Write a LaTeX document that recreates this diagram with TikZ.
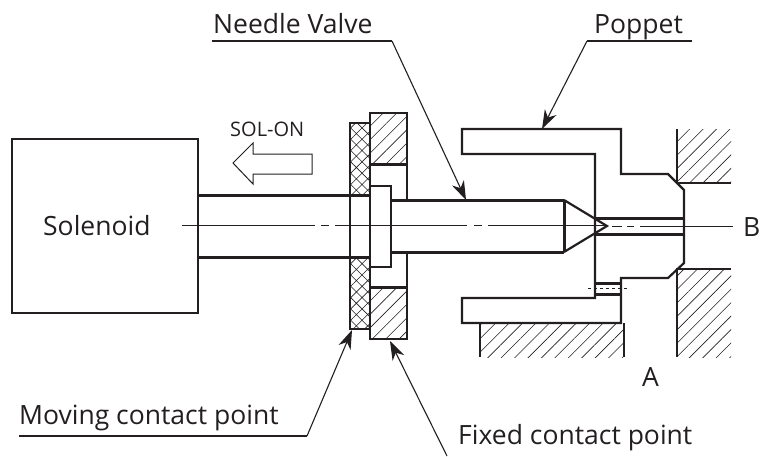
\documentclass[tikz,border=0pt]{standalone}
\usepackage{fontspec}
\setmainfont{Open Sans}
\usetikzlibrary{arrows.meta,patterns.meta}
\definecolor{ink}{HTML}{231F20}
\tikzset{
  thick line/.style = {line width = 2.2pt, draw = ink, line join = miter},
  heavy line/.style = {line width = 3pt, draw = ink},
  thin line/.style = {line width = 1.1pt, draw = ink},
  hatched/.style = {pattern = {Lines[angle = 45, distance = 9.5pt, line width = 0.6pt]}, pattern color = ink},
  crossed/.style = {pattern = {Hatch[angle = 45, distance = 8pt, line width = 0.6pt]}, pattern color = ink},
  leader/.style = {line width = 1.1pt, draw = ink, -{Stealth[length = 19pt, width = 13pt, inset = 6pt]}},
  label/.style = {text = ink, font = \fontsize{26.5}{30}\selectfont, inner sep = 0pt, anchor = base west},
  centre/.style = {line width = 1pt, draw = ink}
}
\begin{document}
\begin{tikzpicture}[x = 1pt, y = -1pt]
\useasboundingbox (0, 0) rectangle (761, 456);
% hatching first, the outlines go on top
\fill[hatched] (677, 129) rectangle (731, 183);
\fill[hatched] (677, 269) rectangle (731, 357);
\fill[hatched] (480, 323) rectangle (624, 357);
\fill[hatched] (370, 113) rectangle (407, 164);
\fill[hatched] (370, 287) rectangle (407, 339);
\fill[crossed] (350, 123) rectangle (370, 195);
\fill[crossed] (350, 257) rectangle (370, 329);
% body of the solenoid and rod
\node[draw = ink, line width = 1.6pt, minimum width = 186pt, minimum height = 174pt, inner sep = 0pt] (solenoidbox) at (105, 226) {};
\draw[heavy line] (198, 195) -- (370, 195);
\draw[heavy line] (198, 257) -- (370, 257);
% contact points
\draw[thick line] (370, 123) -- (350, 123) -- (350, 329) -- (370, 329);
\draw[thick line] (370, 164) -- (370, 113) -- (407, 113) -- (407, 164);
\draw[thick line] (370, 287) -- (370, 339) -- (407, 339) -- (407, 287);
\draw[thick line] (370, 164) -- (370, 287);
\draw[heavy line] (370, 164) -- (407, 164);
\draw[heavy line] (370, 287) -- (407, 287);
\draw[thick line] (407, 164) -- (407, 200);
\draw[thick line] (407, 252) -- (407, 287);
% needle valve
\draw[thick line] (370, 186) -- (391, 186) -- (391, 267) -- (370, 267);
\draw[heavy line] (391, 200) -- (564, 200);
\draw[heavy line] (391, 252) -- (564, 252);
\draw[heavy line] (564, 200) -- (564, 252);
\draw[thick line] (564, 200) -- (607, 226) -- (564, 252);
% poppet
\draw[thick line] (462, 129) -- (621, 129) -- (621, 174) -- (668, 174) -- (684, 190) -- (684, 263) -- (668, 278) -- (621, 278) -- (621, 323) -- (462, 323) -- (462, 298) -- (595, 298) -- (595, 154) -- (462, 154) -- cycle;
\draw[heavy line] (595, 218) -- (684, 218);
\draw[heavy line] (595, 234) -- (684, 234);
\draw[heavy line] (595, 283) -- (621, 283);
\draw[heavy line] (595, 294) -- (621, 294);
\draw[centre, dashed] (588, 288.5) -- (629, 288.5);
% seat blocks
\draw[thick line] (677, 129) -- (677, 183) -- (731, 183);
\draw[thick line] (731, 269) -- (677, 269) -- (677, 357);
\draw[thick line] (480, 357) -- (480, 323) (624, 323) -- (624, 357);
% centre line
\draw[centre] (182, 225) -- (315, 225);
\draw[centre] (321, 225) -- (329, 225);
\draw[centre] (335, 225) -- (467, 225);
\draw[centre] (474, 225) -- (482, 225);
\draw[centre] (488, 225) -- (607, 225);
\draw[centre] (612, 226) -- (622, 226);
\draw[centre] (627, 226) -- (634, 226);
\draw[centre] (640, 226) -- (733, 226);
% direction arrow
\draw[line width = 1pt, draw = ink, line join = miter] (233, 163) -- (253, 143) -- (253, 154) -- (312, 154) -- (312, 174) -- (253, 174) -- (253, 184) -- cycle;
% labels
\node[label] (solenoid) at (43, 235) {Solenoid};
\node[label, font = \fontsize{20}{24}\selectfont] (solon) at (230, 136) {SOL-ON};
\node[label] (needle) at (213, 33) {Needle Valve};
\node[label] (poppet) at (594, 33) {Poppet};
\node[label] (moving) at (19, 424) {Moving contact point};
\node[label] (fixed) at (458, 444) {Fixed contact point};
\node[label] (portb) at (743, 236) {B};
\node[label] (porta) at (642, 386) {A};
% leaders
\coordinate (needleleft) at (212, 41);
\coordinate (needleright) at (392, 41);
\coordinate (needletip) at (466, 200);
\coordinate (poppetleft) at (587, 41);
\coordinate (poppetright) at (692, 41);
\coordinate (poppettip) at (542, 129);
\coordinate (movingleft) at (19, 436);
\coordinate (movingright) at (307, 436);
\coordinate (movingtip) at (352, 330);
\coordinate (fixedend) at (447, 456);
\coordinate (fixedtip) at (390, 341);
\draw[thin line] (needleleft) -- (needleright);
\draw[leader] (needleright) -- (needletip);
\draw[thin line] (poppetleft) -- (poppetright);
\draw[leader] (poppetleft) -- (poppettip);
\draw[thin line] (movingleft) -- (movingright);
\draw[leader] (movingright) -- (movingtip);
\draw[leader] (fixedend) -- (fixedtip);
\end{tikzpicture}
\end{document}
